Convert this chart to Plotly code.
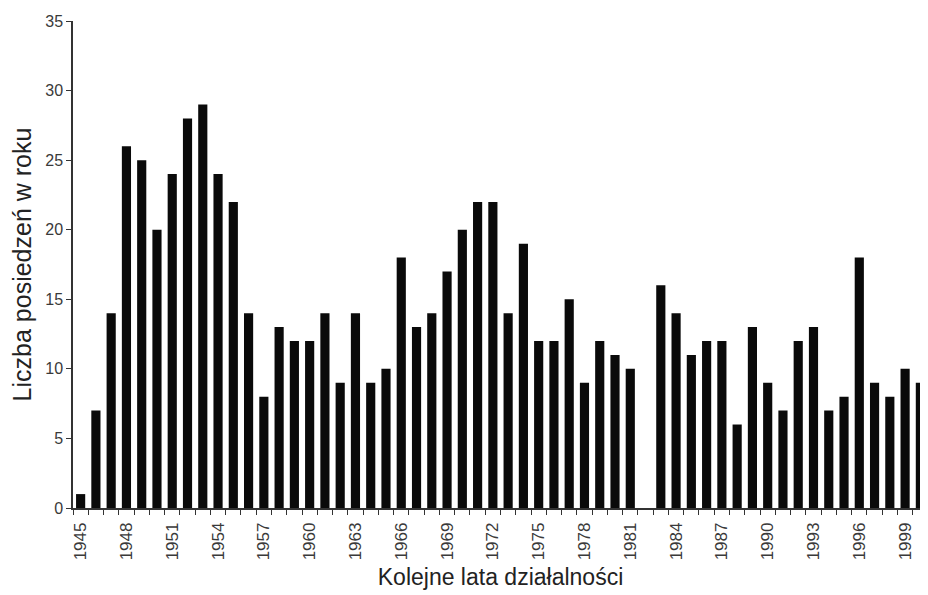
import plotly.graph_objects as go

years = list(range(1945, 2001))
sessions = [1, 7, 14, 26, 25, 20, 24, 28, 29, 24, 22, 14, 8, 13, 12, 12, 14, 9, 14, 9,
            10, 18, 13, 14, 17, 20, 22, 22, 14, 19, 12, 12, 15, 9, 12, 11, 10, 0, 16, 14,
            11, 12, 12, 6, 13, 9, 7, 12, 13, 7, 8, 18, 9, 8, 10, 9]
x_labels = [str(y) for y in years]
tick_text = [str(y) if (y - 1945) % 3 == 0 else "" for y in years]

fig = go.Figure(go.Bar(x=x_labels, y=sessions, marker=dict(color="#0a0a0a", line=dict(width=0))))

font_family = "Liberation Sans, Arial, sans-serif"
fig.update_layout(
    width=920, height=587,
    margin=dict(l=65, r=0, t=13, b=87),
    paper_bgcolor="white", plot_bgcolor="white",
    bargap=0.4,
    showlegend=False,
    font=dict(family=font_family, color="#333333"),
    xaxis=dict(
        type="category",
        tickmode="array", tickvals=x_labels, ticktext=tick_text,
        tickson="boundaries", ticks="outside", ticklen=5, tickcolor="#333",
        tickangle=-90, tickfont=dict(size=17, color="#3a3a3a"),
        ticklabelstandoff=6,
        showline=True, linecolor="#333", linewidth=1.5,
        showgrid=False, zeroline=False,
        title=dict(text="Kolejne lata działalności", font=dict(size=23, color="#222"), standoff=10),
    ),
    yaxis=dict(
        range=[0, 35], tickmode="linear", tick0=0, dtick=5,
        ticks="outside", ticklen=5, tickcolor="#333",
        tickfont=dict(size=16, color="#3a3a3a"),
        showline=True, linecolor="#333", linewidth=1.5,
        showgrid=False, zeroline=False,
        title=dict(text="Liczba posiedzeń w roku", font=dict(size=25, color="#222"), standoff=20),
    ),
)

fig.write_html("out.html")
